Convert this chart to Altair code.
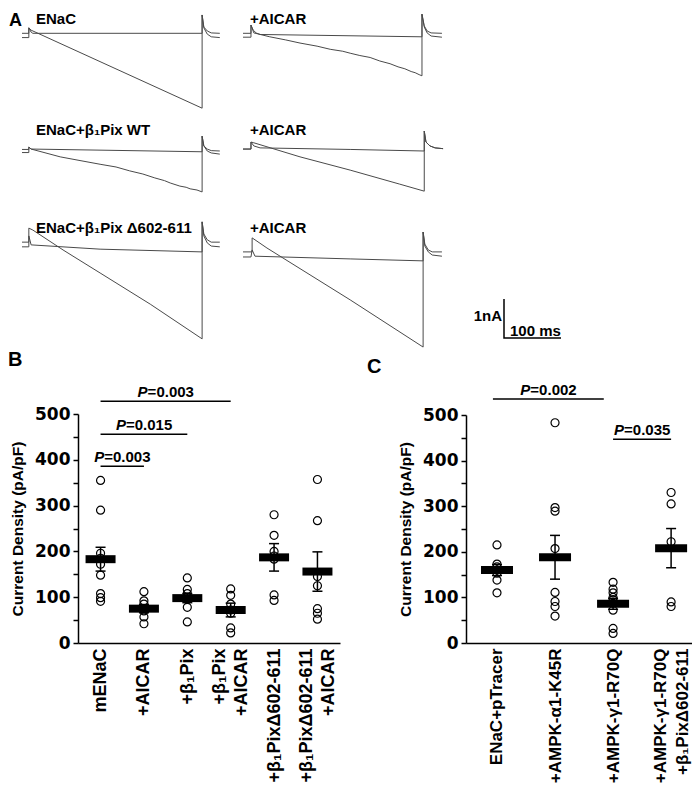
import json
import altair as alt
import pandas as pd

W, H = 684, 779
M = 8  # page margin: chart coordinate = picture coordinate - 8

# ---------------- Panel A: current traces (time in ms, current in nA) ----------------
# Row 1: ENaC / +AICAR
r1L_flat_t = [0, 12, 12, 16, 19, 316, 316, 319, 325, 332, 347]
r1L_flat_i = [0, 0, 0.14, 0.03, 0, 0, 0.47, 0.16, 0.06, 0.01, 0]
r1L_ramp_t = [0, 12, 12, 16, 316, 316, 319, 325, 332, 347]
r1L_ramp_i = [-0.11, -0.11, 0.14, 0.08, -1.92, 0.47, 0.14, -0.02, -0.09, -0.11]

r1R_flat_t = [0, 14, 14, 18, 23, 30, 314, 314, 318, 323, 330, 349]
r1R_flat_i = [0, 0, 0.21, 0.08, 0.01, -0.03, -0.09, 0.49, 0.19, 0.06, 0.01, 0]
r1R_ramp_t = [0, 14, 14, 19, 47, 75, 100, 130, 153, 175, 188, 205, 223, 240, 258,
              272, 284, 295, 302, 309, 314, 314, 318, 323, 330, 349]
r1R_ramp_i = [-0.10, -0.10, 0.21, 0.01, -0.09, -0.17, -0.25, -0.33, -0.41, -0.46, -0.51,
              -0.57, -0.62, -0.71, -0.78, -0.86, -0.91, -0.98, -1.01, -1.06, -1.09,
              0.49, 0.16, 0.01, -0.07, -0.10]

# Row 2: ENaC+β1Pix WT / +AICAR
r2L_flat_t = [0, 12, 12, 16, 316, 316, 319, 325, 332, 347]
r2L_flat_i = [0.04, 0.04, 0.10, 0.05, -0.02, 0.38, 0.13, 0.05, 0.01, 0]
r2L_ramp_t = [0, 12, 12, 16, 67, 100, 137, 165, 189, 212, 233, 250, 260, 277, 288,
              295, 307, 316, 316, 319, 325, 332, 347]
r2L_ramp_i = [-0.04, -0.04, 0.10, 0.05, -0.15, -0.24, -0.34, -0.41, -0.51, -0.59, -0.69,
              -0.76, -0.82, -0.90, -0.93, -0.97, -1.00, -1.05, 0.38, 0.13, 0, -0.05, -0.08]

r2R_flat_t = [0, 14, 14, 19, 30, 188, 318, 318, 321, 328, 337, 351]
r2R_flat_i = [0.05, 0.05, 0.23, 0.13, 0.08, 0.04, 0, 0.51, 0.23, 0.13, 0.08, 0.06]
r2R_ramp_t = [0, 14, 14, 19, 100, 188, 275, 318, 318, 321, 328, 337, 351]
r2R_ramp_i = [0.05, 0.05, 0.23, 0.21, -0.15, -0.49, -0.85, -1.03, 0.51, 0.23, 0.13, 0.08, 0.06]

# Row 3: ENaC+β1Pix Δ602-611 / +AICAR
r3L_flat_t = [0, 12, 12, 16, 137, 316, 316, 319, 325, 332, 347]
r3L_flat_i = [0.03, 0.03, 0.31, 0.08, -0.03, -0.10, 0.67, 0.31, 0.13, 0.05, 0.03]
r3L_ramp_t = [0, 12, 12, 19, 72, 137, 225, 316, 316, 319, 325, 332, 347]
r3L_ramp_i = [0.15, 0.15, 0.51, 0.46, -0.05, -0.64, -1.44, -2.33, 0.67, 0.36, 0.21, 0.15, 0.15]

r3R_flat_t = [0, 14, 16, 21, 188, 316, 316, 319, 325, 332, 349]
r3R_flat_i = [-0.23, -0.23, -0.05, -0.21, -0.28, -0.33, 0.41, 0.05, -0.10, -0.18, -0.21]
r3R_ramp_t = [0, 14, 16, 16, 42, 188, 316, 316, 319, 325, 332, 349]
r3R_ramp_i = [-0.10, -0.10, -0.10, 0.26, 0, -1.33, -2.54, 0.41, 0.10, -0.05, -0.10, -0.10]

trace_titles = ["ENaC", "+AICAR", "ENaC+β₁Pix WT", "+AICAR", "ENaC+β₁Pix Δ602-611", "+AICAR"]

# scale bar (100 ms, 1 nA)
sb_t = [0, 0, 100]
sb_i = [1, 0, 0]
sb_labels = ["1nA", "100 ms"]

# ---------------- Panel B ----------------
B_labels = [["mENaC"], ["+AICAR"], ["+β₁Pix"], ["+β₁Pix", "+AICAR"],
            ["+β₁PixΔ602-611"], ["+β₁PixΔ602-611", "+AICAR"]]
B_points = [
    [355, 290, 196, 185, 172, 148, 108, 99, 91],
    [112, 92, 85, 75, 70, 57, 42],
    [142, 117, 108, 100, 95, 78, 46],
    [118, 104, 85, 72, 65, 33, 22],
    [280, 235, 200, 190, 183, 105, 93],
    [357, 267, 145, 125, 75, 65, 52],
]
B_mean = [183, 75, 98, 72, 187, 156]
B_sem = [26, 9, 10, 15, 30, 43]
B_br_x1 = [0, 0, 0]
B_br_x2 = [3, 2, 1]
B_br_y = [528, 456, 386]
B_br_p = ["=0.003", "=0.015", "=0.003"]

# ---------------- Panel C ----------------
C_labels = [["ENaC+pTracer"], ["+AMPK-α1-K45R"], ["+AMPK-γ1-R70Q"],
            ["+AMPK-γ1-R70Q", "+β₁PixΔ602-611"]]
C_points = [
    [215, 173, 167, 160, 153, 138, 110],
    [483, 297, 289, 207, 111, 91, 80, 59],
    [133, 118, 110, 100, 95, 87, 72, 32, 21],
    [330, 305, 222, 90, 80],
]
C_mean = [160, 188, 86, 208]
C_sem = [12, 48, 12, 43]
C_br_x1 = [-0.07, 2]
C_br_x2 = [1.84, 3]
C_br_y = [535, 447]
C_br_p = ["=0.002", "=0.035"]

# ---------------- helpers ----------------
PX_MS = 0.57
PX_NA = 39.0
BOLD = "Liberation Sans"
TRACE_COLOR = "#4a4a4a"


def trace_chart(ft, fi, rt, ri, x0, y0):
    rows = [{"sweep": "a", "k": k, "t": t, "I": i} for k, (t, i) in enumerate(zip(ft, fi))]
    rows += [{"sweep": "b", "k": k, "t": t, "I": i} for k, (t, i) in enumerate(zip(rt, ri))]
    df = pd.DataFrame(rows)
    xs = alt.Scale(domain=[0, 400], range=[x0 - M, x0 - M + 400 * PX_MS], nice=False, zero=False)
    ys = alt.Scale(domain=[-4, 1], range=[y0 - M + 4 * PX_NA, y0 - M - PX_NA], nice=False, zero=False)
    return alt.Chart(df).mark_line(color=TRACE_COLOR, strokeWidth=1).encode(
        x=alt.X("t:Q", scale=xs, axis=None),
        y=alt.Y("I:Q", scale=ys, axis=None),
        detail="sweep:N",
        order="k:Q",
    )


def label(text, x, y, size=15, align="left", font=BOLD, style="normal"):
    return alt.Chart(pd.DataFrame({"s": [text]})).mark_text(
        font=font, fontSize=size, fontWeight="bold", fontStyle=style,
        align=align, baseline="alphabetic", color="black",
    ).encode(x=alt.value(x - M), y=alt.value(y - M), text="s:N")


def panel(points, means, sems, labels, bx1, bx2, by, bp, xdom, xr, yr, bar_w, cat_size):
    pts = pd.DataFrame([{"idx": g, "v": v} for g, vals in enumerate(points) for v in vals])
    summ = pd.DataFrame({
        "idx": list(range(len(means))), "mean": means,
        "lo": [m - s for m, s in zip(means, sems)],
        "hi": [m + s for m, s in zip(means, sems)],
    })
    brd = pd.DataFrame({"x1": bx1, "x2": bx2, "y": by, "p": bp})
    brd["xm"] = (brd.x1 + brd.x2) / 2
    xs = alt.Scale(domain=xdom, range=[xr[0] - M, xr[1] - M], nice=False, zero=False)
    ys = alt.Scale(domain=[0, 500], range=[yr[0] - M, yr[1] - M], nice=False, zero=False)
    expr = json.dumps(labels, ensure_ascii=False) + "[datum.value]"
    two_line = [i for i, l in enumerate(labels) if len(l) > 1]
    test = " || ".join(f"datum.value == {i}" for i in two_line)
    xaxis = alt.Axis(
        orient="bottom", offset=(yr[0] - M) - H, values=list(range(len(labels))),
        labelExpr=expr, labelAngle=270, labelAlign="right", labelBaseline="middle",
        labelOffset={"condition": {"test": test, "value": -11}, "value": 0},
        labelFont=BOLD, labelFontSize=cat_size, labelFontWeight="bold", labelColor="black",
        labelLineHeight=22, labelPadding=5, labelOverlap=False, labelFlush=False,
        ticks=False, tickSize=0, domainColor="black", domainWidth=1.5, grid=False, title=None,
    )
    yaxis = alt.Axis(
        orient="left", offset=-(xr[0] - M), values=list(range(0, 501, 50)),
        labelExpr="datum.value % 100 == 0 ? datum.label : ''",
        labelFont="DejaVu Sans", labelFontSize=17, labelFontWeight="bold", labelColor="black",
        labelPadding=3, tickSize=5, tickWidth=1.5, tickColor="black",
        domainColor="black", domainWidth=1.5, grid=False, labelOverlap=False, labelFlush=False,
        title="Current Density (pA/pF)", titleFont=BOLD, titleFontSize=15.5,
        titleFontWeight="bold", titleColor="black", titlePadding=9,
    )
    X = lambda f: alt.X(f, scale=xs, axis=xaxis, title=None)
    Y = lambda f: alt.Y(f, scale=ys, axis=yaxis, title="Current Density (pA/pF)")
    dots = alt.Chart(pts).mark_point(shape="circle", filled=False, size=64, color="black",
                                     strokeWidth=1.2, opacity=1).encode(
        x=X("idx:Q"), y=Y("v:Q"))
    err = alt.Chart(summ).mark_rule(color="black", strokeWidth=1.5).encode(
        x=X("idx:Q"), y=Y("lo:Q"), y2="hi:Q")
    cap_lo = alt.Chart(summ).mark_tick(orient="horizontal", size=10, thickness=1.5, color="black",
                                       opacity=1).encode(x=X("idx:Q"), y=Y("lo:Q"))
    cap_hi = alt.Chart(summ).mark_tick(orient="horizontal", size=10, thickness=1.5, color="black",
                                       opacity=1).encode(x=X("idx:Q"), y=Y("hi:Q"))
    bars = alt.Chart(summ).mark_tick(orient="horizontal", size=bar_w, thickness=8, color="black",
                                     opacity=1).encode(x=X("idx:Q"), y=Y("mean:Q"))
    brk = alt.Chart(brd).mark_rule(color="black", strokeWidth=1.5).encode(
        x=X("x1:Q"), x2="x2:Q", y=Y("y:Q"))
    ptx = alt.Chart(brd).mark_text(text="P", font=BOLD, fontSize=15, fontWeight="bold",
                                   fontStyle="italic", align="right", baseline="alphabetic",
                                   dx=-18, dy=-4, color="black").encode(x=X("xm:Q"), y=Y("y:Q"))
    vtx = alt.Chart(brd).mark_text(font=BOLD, fontSize=15, fontWeight="bold", align="left",
                                   baseline="alphabetic", dx=-18, dy=-4, color="black").encode(
        x=X("xm:Q"), y=Y("y:Q"), text="p:N")
    return alt.layer(dots, err, cap_lo, cap_hi, bars, brk, ptx, vtx)


# ---------------- assemble ----------------
traces = [
    trace_chart(r1L_flat_t, r1L_flat_i, r1L_ramp_t, r1L_ramp_i, 22, 33.3),
    trace_chart(r1R_flat_t, r1R_flat_i, r1R_ramp_t, r1R_ramp_i, 243, 33.3),
    trace_chart(r2L_flat_t, r2L_flat_i, r2L_ramp_t, r2L_ramp_i, 22, 151),
    trace_chart(r2R_flat_t, r2R_flat_i, r2R_ramp_t, r2R_ramp_i, 243, 151),
    trace_chart(r3L_flat_t, r3L_flat_i, r3L_ramp_t, r3L_ramp_i, 22, 248),
    trace_chart(r3R_flat_t, r3R_flat_i, r3R_ramp_t, r3R_ramp_i, 243, 248),
]

sb_df = pd.DataFrame({"t": sb_t, "I": sb_i, "k": list(range(len(sb_t)))})
scalebar = alt.Chart(sb_df).mark_line(color="black", strokeWidth=1.5).encode(
    x=alt.X("t:Q", scale=alt.Scale(domain=[0, 100], range=[504 - M, 561 - M], nice=False, zero=False), axis=None),
    y=alt.Y("I:Q", scale=alt.Scale(domain=[0, 1], range=[338 - M, 299 - M], nice=False, zero=False), axis=None),
    order="k:Q",
)

texts = [
    label("A", 9, 26, size=18),
    label("B", 8, 366, size=20),
    label("C", 367, 373, size=20),
    label(trace_titles[0], 36, 23.5),
    label(trace_titles[1], 250, 23.5),
    label(trace_titles[2], 36, 134.5),
    label(trace_titles[3], 250, 134.5),
    label(trace_titles[4], 36, 233),
    label(trace_titles[5], 250, 233),
    label(sb_labels[0], 502, 320.5, align="right"),
    label(sb_labels[1], 510, 336),
]

panelB = panel(B_points, B_mean, B_sem, B_labels, B_br_x1, B_br_x2, B_br_y, B_br_p,
               [-0.52, 5.52], [78, 340], [643, 414], 30, 18)
panelC = panel(C_points, C_mean, C_sem, C_labels, C_br_x1, C_br_x2, C_br_y, C_br_p,
               [-0.534, 3.36], [466, 692], [643, 415], 32, 17)

chart = alt.layer(*traces, scalebar, *texts, panelB, panelC).resolve_scale(
    x="independent", y="independent"
).properties(
    width=W, height=H, padding=0, autosize=alt.AutoSizeParams(type="none")
).configure_view(stroke=None)

chart.save("out.html", embed_options={"renderer": "svg", "actions": False})
